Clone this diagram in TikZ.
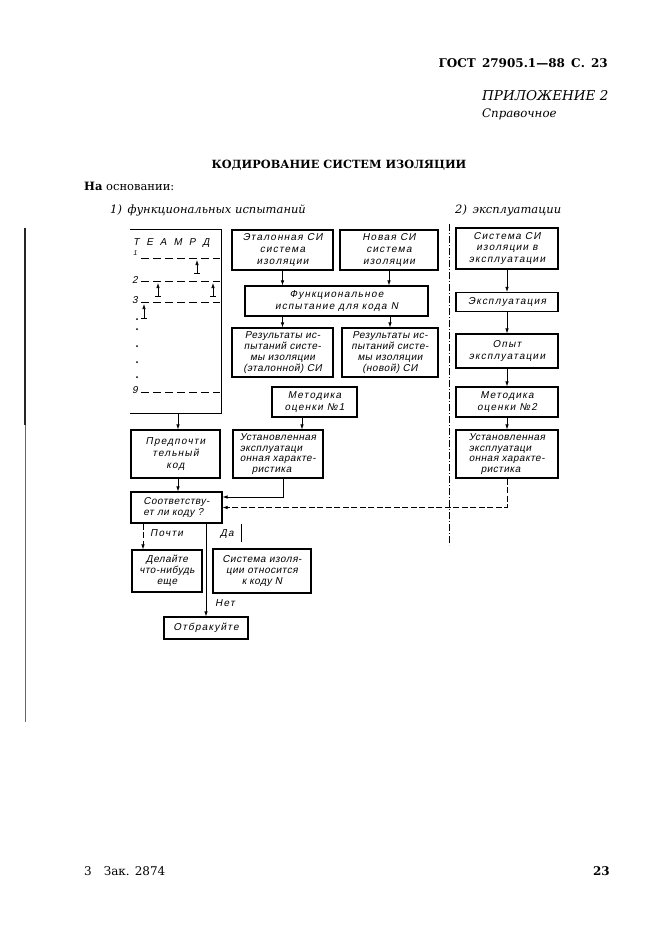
\documentclass[tikz,border=0pt]{standalone}
\usepackage{fontspec}
\setmainfont{DejaVu Serif}
\newfontfamily\gost[LetterSpace=12,FakeSlant=0.2]{Liberation Sans}
\newfontfamily\gostn[LetterSpace=5,FakeSlant=0.2]{Liberation Sans}
\newcommand{\gostf}{\gost\fontsize{10}{11.8}\selectfont}
\newcommand{\gostnf}{\gostn\fontsize{10}{10.8}\selectfont}
\newcommand{\gosts}{\gost\fontsize{7}{8}\selectfont}
\usetikzlibrary{arrows.meta}
\begin{document}
\begin{tikzpicture}[x=1pt,y=-1pt,
  box/.style={draw,line width=1.1pt,inner sep=0pt,align=center,font=\gostf},
  lbox/.style={box,align=left,font=\gostnf},
  arr/.style={line width=0.7pt,-{Latex[length=5pt,width=3.5pt]}},
  conn/.style={line width=0.7pt},
  rowline/.style={line width=0.8pt,dash pattern=on 8pt off 4pt},
  dconn/.style={line width=0.7pt,dash pattern=on 6pt off 2.5pt,-{Latex[length=5pt,width=3.5pt]}},
  divider/.style={line width=0.6pt,dash pattern=on 7pt off 2pt on 1pt off 2pt},
  lbl/.style={font=\gostf,inner sep=0pt},
  hd/.style={inner sep=0pt}]
\useasboundingbox[fill=white] (0,0) rectangle (661,935);

% scan edge
\draw[line width=2pt,black!85] (25,228) -- (25,425);
\draw[line width=1pt,black!60] (25,425) -- (25,722);

% header texts
\node[hd,anchor=base east,font=\bfseries\fontsize{12}{14}\selectfont] (gost) at (608,67) {ГОСТ\, 27905.1—88\, С.\, 23};
\node[hd,anchor=base west,font=\itshape\fontsize{13.5}{15}\selectfont] (pril) at (482,100) {ПРИЛОЖЕНИЕ 2};
\node[hd,anchor=base west,font=\itshape\fontsize{11.8}{14}\selectfont] (sprav) at (482,117) {Справочное};
\node[hd,anchor=base,font=\bfseries\fontsize{11.3}{14}\selectfont] (title) at (339,168) {КОДИРОВАНИЕ СИСТЕМ ИЗОЛЯЦИИ};
\node[hd,anchor=base west,font=\fontsize{11.5}{14}\selectfont] (osn) at (84,190) {\textbf{На} основании:};
\node[hd,anchor=base west,font=\itshape\fontsize{11.5}{14}\selectfont] (f1) at (110,213) {1)\, функциональных испытаний};
\node[hd,anchor=base west,font=\itshape\fontsize{11.5}{14}\selectfont] (f2) at (455,213) {2)\, эксплуатации};

% left panel
\node[minimum width=91,minimum height=183,inner sep=0pt] (panel) at (175.5,321.5) {};
\draw[line width=1.1pt] (panel.north west) -- (panel.north east) -- (panel.south east) -- (panel.south west);
\node[lbl,anchor=west] (tea) at (133,243) {Т\hspace{7pt}Е\hspace{7pt}А\hspace{7pt}М\hspace{7pt}Р\hspace{7pt}Д};
\node[inner sep=0pt,font=\gosts] (n1) at (135,253) {1};
\node[lbl] (n2) at (135,280) {2};
\node[lbl] (n3) at (135,300) {3};
\node[lbl] (n9) at (135,390) {9};
\draw[rowline] (141,258) -- (220,258);
\draw[rowline] (141,281) -- (220,281);
\draw[rowline] (141,302) -- (220,302);
\draw[rowline] (141,392) -- (220,392);
\foreach \x/\ya/\yb in {197/260/273, 158/283/296, 213/283/296, 144/304/318}{
  \draw[arr] (\x,\yb) -- (\x,\ya);
  \draw[conn] (\x-3,\yb) -- (\x+3,\yb);
}
\foreach \y in {319,329,346,362,377}{\fill (137,\y) circle (1pt);}

% middle column
\node[box,minimum width=101,minimum height=40] (etal) at (282.5,250) {Эталонная СИ\\система\\изоляции};
\node[box,minimum width=98,minimum height=40] (novaya) at (389,250) {Новая СИ\\система\\изоляции};
\node[box,minimum width=183,minimum height=30] (func) at (336.5,301) {Функциональное\\испытание для кода N};
\node[box,minimum width=101,minimum height=49,font=\gostnf] (res1) at (282.5,352.5) {Результаты ис-\\пытаний систе-\\мы изоляции\\(эталонной) СИ};
\node[box,minimum width=96,minimum height=49,font=\gostnf] (res2) at (390,352.5) {Результаты ис-\\пытаний систе-\\мы изоляции\\(новой) СИ};
\node[box,minimum width=85,minimum height=30] (met1) at (314.5,402) {Методика\\оценки №1};
\node[lbox,minimum width=90,minimum height=48] (ust1) at (278,454) {Установленная\\эксплуатаци\\онная характе-\\\hspace*{12pt}ристика};

% left column
\node[box,minimum width=89,minimum height=48] (pred) at (175.5,454) {Предпочти\\тельный\\код};
\node[lbox,minimum width=91,minimum height=31] (soot) at (176.5,507.5) {Соответству-\\ет ли коду ?};
\node[box,minimum width=70,minimum height=42,font=\gostnf] (del) at (167,571) {Делайте\\что-нибудь\\еще};
\node[box,minimum width=98,minimum height=44,font=\gostnf] (sist) at (262,571) {Система изоля-\\ции относится\\к коду N};
\node[box,minimum width=84,minimum height=22] (otb) at (206,628) {Отбракуйте};

% right column
\node[box,minimum width=102,minimum height=41] (r1) at (507,248.5) {Система СИ\\изоляции в\\эксплуатации};
\node[box,minimum width=102,minimum height=19] (r2) at (507,302) {Эксплуатация};
\node[box,minimum width=102,minimum height=34] (r3) at (507,351) {Опыт\\эксплуатации};
\node[box,minimum width=102,minimum height=30] (r4) at (507,402) {Методика\\оценки №2};
\node[lbox,minimum width=102,minimum height=48] (r5) at (507,454) {Установленная\\эксплуатаци\\онная характе-\\\hspace*{12pt}ристика};

% divider
\draw[divider] (449,224) -- (449,545);

% connectors: middle
\draw[arr] (etal.south) -- (etal.south |- func.north);
\draw[arr] (novaya.south) -- (novaya.south |- func.north);
\draw[arr] (res1.north |- func.south) -- (res1.north);
\draw[arr] (res2.north |- func.south) -- (res2.north);
\draw[arr] ([xshift=-12.5pt]met1.south) -- ([xshift=-12.5pt]met1.south |- ust1.north);
\draw[arr] ([xshift=5pt]ust1.south) |- ([yshift=10.5pt]soot.east);

% connectors: left
\draw[arr] ([xshift=2.5pt]pred.north |- panel.south) -- ([xshift=2.5pt]pred.north);
\draw[arr] ([xshift=1.5pt]soot.north |- pred.south) -- ([xshift=1.5pt]soot.north);
\coordinate (pa) at (143,600);
\draw[dconn] (pa |- soot.south) -- (pa |- del.north);
\draw[arr] (otb.north |- soot.south) -- (otb.north);
\coordinate (daend) at (241,542);
\draw[conn] (daend |- soot.south) -- (daend);
\node[lbl,anchor=west] (pochti) at (150,533) {Почти};
\node[lbl,anchor=west] (da) at (220,534) {Да};
\node[lbl,anchor=west] (net) at (215,603) {Нет};

% connectors: right
\draw[arr] (r1) -- (r2);
\draw[arr] (r2) -- (r3);
\draw[arr] (r3) -- (r4);
\draw[arr] (r4) -- (r5);
\draw[dconn] (r5.south) |- (soot.east);

% footer
\node[hd,anchor=base west,font=\fontsize{12}{14}\selectfont] (zak) at (84,875) {3\quad Зак. 2874};
\node[hd,anchor=base east,font=\bfseries\fontsize{12}{14}\selectfont] (pg) at (610,875) {23};
\end{tikzpicture}
\end{document}
